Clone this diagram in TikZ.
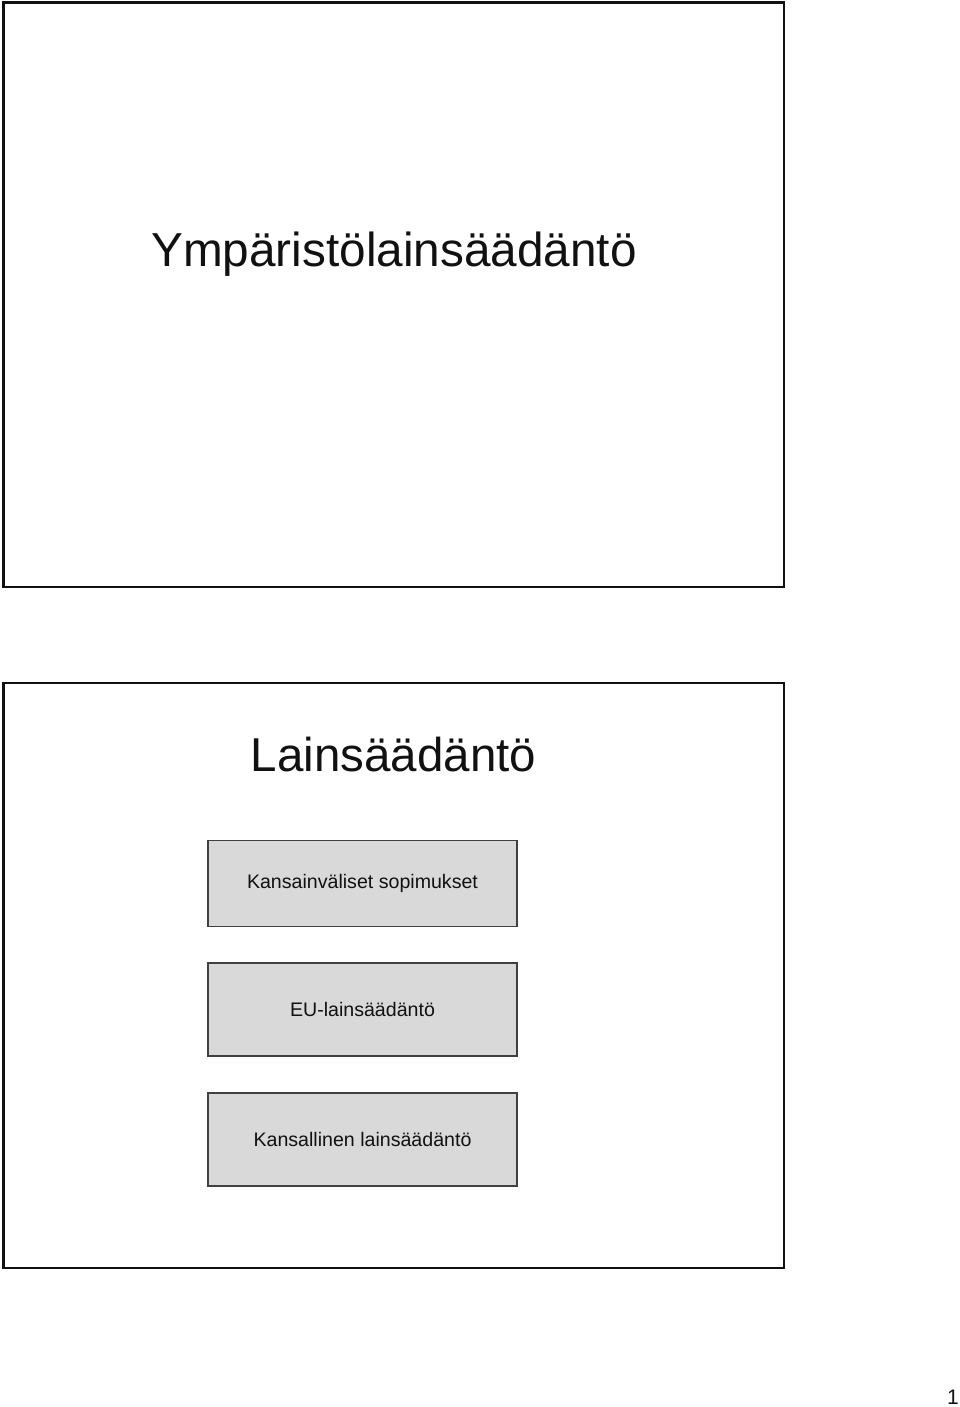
\documentclass[tikz,border=0pt]{standalone}
\usepackage{fontspec}
\setmainfont{Liberation Sans}
\definecolor{boxfill}{HTML}{D9D9D9}
\definecolor{boxline}{HTML}{404040}
\definecolor{ink}{HTML}{111111}
\tikzset{
  frame/.style={draw=ink, line width=2.5pt, fill=white},
  layer/.style={draw=boxline, line width=1.3pt, fill=boxfill, minimum width=309pt, minimum height=#1, inner sep=0pt, text=ink, font=\fontsize{19.6}{22}\selectfont},
  bigtitle/.style={anchor=base, text=ink, inner sep=0pt},
}
\begin{document}
\begin{tikzpicture}[x=1pt,y=-1pt]
\useasboundingbox (0,0) rectangle (960,1407);
\draw[frame] (3.5,2.5) rectangle (784,587);
\draw[frame] (3.5,683) rectangle (784,1268);
\node[bigtitle, font=\fontsize{47.7}{52}\selectfont] (t1) at (394,266) {Ympäristölainsäädäntö};
\node[bigtitle, font=\fontsize{47.5}{52}\selectfont] (t2) at (393.5,771) {Lainsäädäntö};
\node[layer=86pt] (b1) at (362.5,883.5) {Kansainväliset sopimukset};
\node[layer=93pt] (b2) at (362.5,1009.5) {EU-lainsäädäntö};
\node[layer=93pt] (b3) at (362.5,1139.5) {Kansallinen lainsäädäntö};
\node[anchor=base east, inner sep=0pt, text=ink, font=\fontsize{21}{24}\selectfont] (pg) at (959,1404) {1};
\end{tikzpicture}
\end{document}
